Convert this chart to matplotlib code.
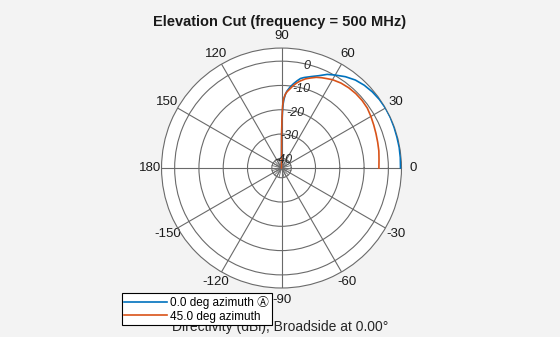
import numpy as np
import matplotlib.pyplot as plt

plt.rcParams['font.family'] = ['Liberation Sans', 'DejaVu Sans', 'Noto Sans CJK SC']

elev0 = [0, 5, 10, 15, 20, 25, 30, 35, 40, 45, 50, 55, 60, 64, 68, 72, 76, 78, 80, 82,
         84, 86, 87, 88, 88.5, 89, 89.5, 89.8, 90]
az0 = [5.0, 5.1, 5.2, 5.2, 5.3, 5.4, 5.4, 5.2, 4.8, 4.2, 3.3, 1.9, 0.2, -1.1, -3.0, -4.4,
       -5.6, -6.3, -7.6, -9.0, -10.5, -12.3, -13.6, -15.8, -17.5, -20.5, -26.0, -32.0, -44.0]
elev45 = [0, 5, 10, 15, 20, 25, 30, 35, 40, 45, 50, 55, 60, 63, 66, 69, 72, 75, 78, 80,
          82, 84, 86, 87, 88, 88.5, 89, 89.5, 89.8, 90]
az45 = [-3.9, -3.7, -3.3, -3.0, -2.6, -2.1, -1.5, -0.9, -0.7, -0.7, -0.9, -1.3, -2.0, -2.7,
        -3.3, -4.0, -5.0, -6.0, -7.4, -8.5, -9.8, -11.3, -12.6, -13.6, -15.0, -16.3, -18.5,
        -24.0, -30.0, -44.0]

series_labels = ["0.0 deg azimuth \u24b6", "45.0 deg azimuth"]
colors = ["#0072BD", "#D95319"]

r_ticks = [-40, -30, -20, -10, 0]
r_min, r_max = -44, 5.4
theta_ticks = np.arange(0, 360, 30)
theta_labels = ["0", "30", "60", "90", "120", "150", "180", "-150", "-120", "-90", "-60", "-30"]

fig = plt.figure(figsize=(5.6, 3.37), dpi=100)
fig.patch.set_facecolor("#f3f3f3")
ax = fig.add_axes([0.2884, 0.1454, 0.4286, 0.712], projection="polar")
ax.set_facecolor("white")

grid_col = "#6a6a6a"
ax.plot(np.deg2rad(elev0), az0, color=colors[0], lw=1.2, label=series_labels[0], zorder=3)
ax.plot(np.deg2rad(elev45), az45, color=colors[1], lw=1.2, label=series_labels[1], zorder=3)

ax.set_ylim(r_min, r_max)
ax.set_yticks(r_ticks)
ax.set_yticklabels([])
for v in r_ticks:
    ax.text(np.deg2rad(76), v - 0.6, str(v), ha="center", va="center", fontsize=9,
            style="italic", color="#262626", zorder=4)
ax.set_thetagrids(theta_ticks, theta_labels, fontsize=9.5, color="#1a1a1a")
ax.tick_params(axis="x", pad=-2)
ax.grid(True, color=grid_col, lw=0.8)
ax.spines["polar"].set_color(grid_col)
ax.spines["polar"].set_linewidth(0.8)

# finer spokes inside the innermost ring
for a in np.arange(0, 360, 15):
    ax.plot([np.deg2rad(a)] * 2, [r_min, -40], color=grid_col, lw=0.6, zorder=1)

fig.text(0.5, 0.935, "Elevation Cut (frequency = 500 MHz)", ha="center", va="center",
         fontsize=10.5, fontweight="bold", color="#1a1a1a")
fig.text(0.5, 0.03, "Directivity (dBi), Broadside at 0.00\u00b0", ha="center", va="center",
         fontsize=10, color="#262626")

leg = fig.legend(loc="lower left", bbox_to_anchor=(0.218, 0.036), fontsize=8.5,
                 frameon=True, fancybox=False, edgecolor="black", framealpha=1,
                 handlelength=3.6, borderpad=0.2, labelspacing=0.15, handletextpad=0.3,
                 borderaxespad=0)
leg.get_frame().set_linewidth(0.8)
leg.set_zorder(10)

fig.savefig("out.png", dpi=100, facecolor=fig.get_facecolor())
